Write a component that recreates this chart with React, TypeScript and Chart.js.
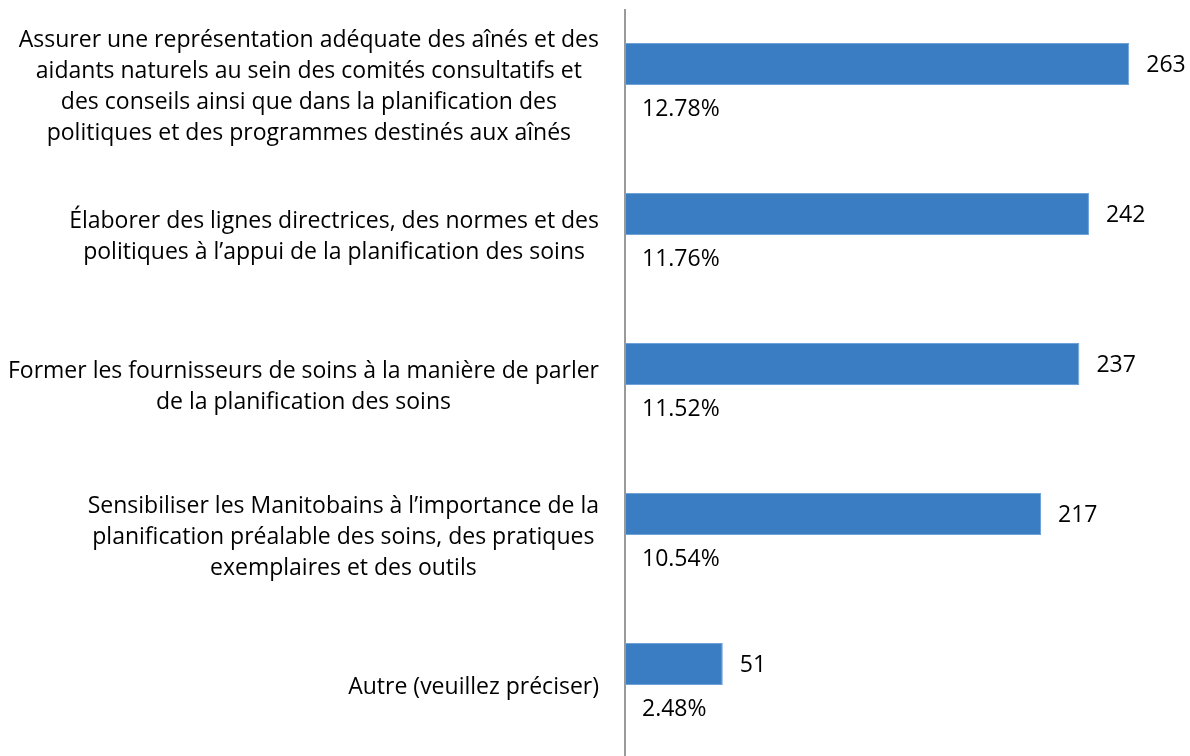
import React, { useEffect, useRef } from "react";
import { Chart, registerables } from "chart.js";

Chart.register(...registerables);

const categories: string[][] = [
  [
    "Assurer une représentation adéquate des aînés et des",
    "aidants naturels au sein des comités consultatifs et",
    "des conseils ainsi que dans la planification des",
    "politiques et des programmes destinés aux aînés",
  ],
  [
    "Élaborer des lignes directrices, des normes et des",
    "politiques à l’appui de la planification des soins",
  ],
  [
    "Former les fournisseurs de soins à la manière de parler",
    "de la planification des soins",
  ],
  [
    "Sensibiliser les Manitobains à l’importance de la",
    "planification préalable des soins, des pratiques",
    "exemplaires et des outils",
  ],
  ["Autre (veuillez préciser)"],
];

const counts: number[] = [263, 242, 237, 217, 51];
const percents: number[] = [12.78, 11.76, 11.52, 10.54, 2.48];
const percentLabels: string[] = ["12.78%", "11.76%", "11.52%", "10.54%", "2.48%"];

const FONT_FAMILY = "'Open Sans', sans-serif";
const FONT_SIZE = 23;
const LINE_HEIGHT = 31;

const labelPlugin = {
  id: "customLabels",
  afterDatasetsDraw(chart: any) {
    const { ctx, chartArea, scales } = chart;
    const yScale = scales.y;
    const meta0 = chart.getDatasetMeta(0);
    const meta1 = chart.getDatasetMeta(1);
    ctx.save();
    ctx.font = `${FONT_SIZE}px ${FONT_FAMILY}`;
    ctx.fillStyle = "#000000";
    ctx.textBaseline = "middle";

    // category labels
    categories.forEach((lines, i) => {
      const cy = yScale.getPixelForValue(i) + 2;
      const widths = lines.map((l) => ctx.measureText(l).width);
      const blockW = Math.max(...widths);
      const right = chartArea.left - 26;
      const cx = right - blockW / 2;
      const startY = cy - ((lines.length - 1) * LINE_HEIGHT) / 2;
      ctx.textAlign = "center";
      lines.forEach((l, k) => {
        ctx.fillText(l, cx, startY + k * LINE_HEIGHT);
      });
    });

    // value labels
    ctx.textAlign = "left";
    meta0.data.forEach((bar: any, i: number) => {
      ctx.fillText(String(counts[i]), bar.x + 17, bar.y + 1);
    });
    meta1.data.forEach((bar: any, i: number) => {
      ctx.fillText(percentLabels[i], chartArea.left + 17, bar.y + 3);
    });
    ctx.restore();
  },
};

export default function App() {
  const canvasRef = useRef<HTMLCanvasElement | null>(null);

  useEffect(() => {
    if (!canvasRef.current) return;
    const chart = new Chart(canvasRef.current, {
      type: "bar",
      data: {
        labels: categories.map((c) => c.join(" ")),
        datasets: [
          {
            label: "Nombre",
            data: counts,
            backgroundColor: "#3A7DC2",
            borderColor: "#6FA3D8",
            borderWidth: 1,
            borderSkipped: false,
            categoryPercentage: 0.56,
            barPercentage: 1,
          },
          {
            label: "Pourcentage",
            data: percents,
            backgroundColor: "rgba(0,0,0,0)",
            borderWidth: 0,
            categoryPercentage: 0.56,
            barPercentage: 1,
          },
        ],
      },
      options: {
        indexAxis: "y",
        animation: false,
        responsive: false,
        maintainAspectRatio: false,
        layout: { padding: { top: 10, bottom: 10, left: 0, right: 9 } },
        plugins: {
          legend: { display: false },
          tooltip: { enabled: false },
        },
        scales: {
          x: {
            display: false,
            min: 0,
            max: 290,
          },
          y: {
            display: true,
            ticks: { display: false },
            grid: { display: false, drawTicks: false },
            border: { display: true, color: "#9A9A9A", width: 2 },
            afterFit: (scale: any) => {
              scale.width = 625;
            },
          },
        },
      },
      plugins: [labelPlugin],
    });
    return () => chart.destroy();
  }, []);

  return (
    <div
      style={{
        position: "fixed",
        left: 0,
        top: 0,
        width: 1190,
        height: 756,
        overflow: "hidden",
        background: "#ffffff",
      }}
    >
      <canvas ref={canvasRef} width={1190} height={770} style={{ display: "block" }} />
    </div>
  );
}
